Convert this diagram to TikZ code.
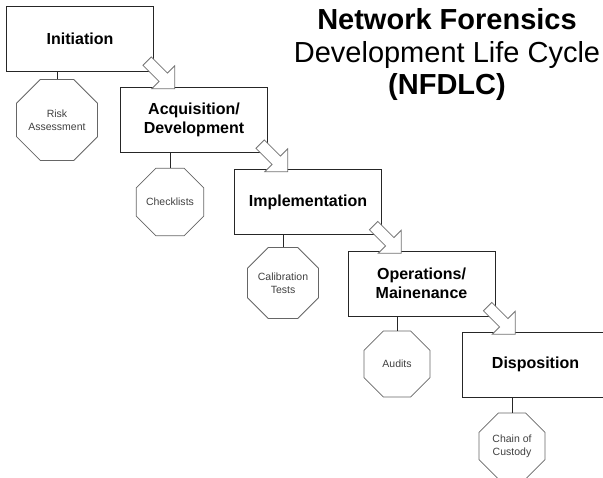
\documentclass[tikz,border=0pt]{standalone}
\usepackage{fontspec}
\setmainfont{Liberation Sans}
\usetikzlibrary{shapes.geometric,shapes.arrows}

\begin{document}
\begin{tikzpicture}[x=1bp,y=-1bp,
  stage/.style={draw=black!85,line width=0.8bp,minimum width=147bp,minimum height=65bp,align=center,font=\fontsize{16bp}{19.5bp}\selectfont\bfseries},
  task/.style={draw=black!60,line width=0.8bp,regular polygon,regular polygon sides=8,minimum size=71.4bp,inner sep=0pt,align=center,text=black!75,font=\fontsize{10.5bp}{13bp}\selectfont},
  flow/.style={draw=black!55,fill=white,line width=0.8bp,single arrow,single arrow head extend=10.3bp,minimum height=39bp,inner xsep=0pt,inner ysep=5.5bp,rotate=-45,anchor=tip},
  link/.style={draw=black!85,line width=0.8bp}]
\path[use as bounding box,clip] (0,0) rectangle (603,478);

\node (t) at (447,55) [align=center,font=\fontsize{29bp}{32.5bp}\selectfont] {\textbf{Network Forensics}\\Development Life Cycle\\\textbf{(NFDLC)}};

\node[stage] (b1) at (80,39) {Initiation};
\node[stage] (b2) at (194,120) {Acquisition/\\Development};
\node[stage] (b3) at (308,202) {Implementation};
\node[stage] (b4) at (421.5,283.5) {Operations/\\Mainenance};
\node[stage] (b5) at (535.5,364.5) {Disposition};

\node[flow] (a1) at ([shift={(55,2)}]b2.north west) {};
\node[flow] (a2) at ([shift={(54,3)}]b3.north west) {};
\node[flow] (a3) at ([shift={(54,3)}]b4.north west) {};
\node[flow] (a4) at ([shift={(54,3)}]b5.north west) {};

\node[task] (o1) at (57,120) {Risk\\Assessment};
\node[task] (o2) at (170,202) {Checklists};
\node[task] (o3) at (283,283) {Calibration\\Tests};
\node[task] (o4) at (397,364) {Audits};
\node[task] (o5) at (512,446) {Chain of\\Custody};

\draw[link] (o1.north) -- (o1.north |- b1.south);
\draw[link] (o2.north) -- (o2.north |- b2.south);
\draw[link] (o3.north) -- (o3.north |- b3.south);
\draw[link] (o4.north) -- (o4.north |- b4.south);
\draw[link] (o5.north) -- (o5.north |- b5.south);
\end{tikzpicture}
\end{document}
